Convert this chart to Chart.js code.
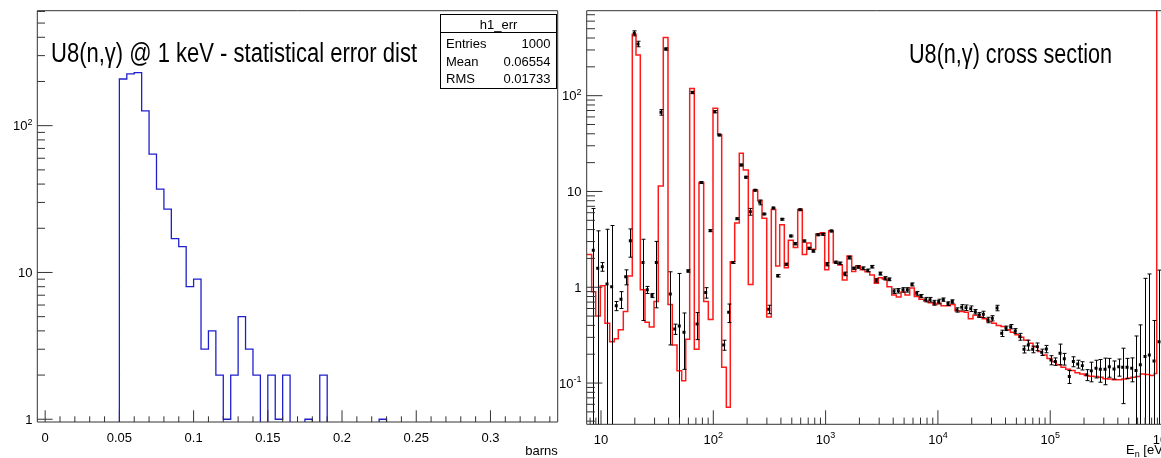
<!DOCTYPE html>
<html><head><meta charset="utf-8">
<script src="https://cdn.jsdelivr.net/npm/chart.js@4.4.1/dist/chart.umd.min.js"></script>
<style>
html,body{margin:0;padding:0;background:#fff;overflow:hidden;width:1161px;height:458px;}
#wrapA{position:absolute;left:0;top:0;width:580px;height:458px;}
#wrapB{position:absolute;left:557px;top:0;width:620px;height:458px;}
canvas{display:block;}
</style></head><body>
<div id="wrapA"><canvas id="cA" width="580" height="458"></canvas></div>
<div id="wrapB"><canvas id="cB" width="620" height="458"></canvas></div>
<script>
// ---------------- DATA: left histogram (statistical error distribution) ----------------
const errTitle = 'U8(n,\u03b3) @ 1 keV - statistical error dist';
const errBinLow = [0.050,0.055,0.060,0.065,0.070,0.075,0.080,0.085,0.090,0.095,
                   0.100,0.105,0.110,0.115,0.120,0.125,0.130,0.135,0.140,0.145,
                   0.150,0.155,0.160,0.165,0.170,0.175,0.180,0.185,0.190,0.195,
                   0.200,0.205,0.210,0.215,0.220,0.225];
const errBinWidth = 0.005;
const errCounts = [208,225,230,126,64,37,27,17,15,8,
                   9,3,4,2,1,2,5,3,2,0,
                   2,1,2,0,0,1,0,2,0,0,
                   0,0,0,0,0,1];
const errTickVals = [0,0.05,0.1,0.15,0.2,0.25,0.3];
const errTickLabels = ['0','0.05','0.1','0.15','0.2','0.25','0.3'];
const countTickVals = [1,10,100];
const countTickLabels = [['1',''],['10',''],['10','2']];
const statName = 'h1_err';
const statRows = [['Entries','1000'],['Mean','0.06554'],['RMS','0.01733']];
const errXTitle = 'barns';

// ---------------- DATA: right panel (cross section) ----------------
const xsTitle = 'U8(n,\u03b3) cross section';
// evaluated cross section histogram: bin edges (eV) and contents (b)
const xsEdges = [7.0,8.26,8.97,9.86,10.85,11.95,13.14,14.26,15.80,17.29,
  19.00,20.50,22.39,24.65,26.92,29.65,32.37,35.87,39.50,43.14,
  47.52,52.31,56.79,61.63,67.73,74.58,82.12,90.27,99.38,109.4,
  118.8,130.6,141.7,155.1,170.4,185.0,205.0,225.7,248.6,271.5,
  299.0,328.5,359.5,390.2,428.8,465.4,515.8,564.5,620.1,678.8,
  741.3,816.2,897.2,981.8,1066,1171,1282,1408,1551,1708,
  1854,2037,2243,2471,2715,2947,3198,3522,3879,4263,
  4694,5093,5609,6163,6788,7473,8212,9046,9817,10656,
  11733,12894,14202,15637,17183,18652,20541,22613,24854,27371,
  30148,33113,36469,40158,44138,48603,52760,58080,63830,70290,
  77400,85060,93650,103130,113330,124800,137400,151000,166300,183100,
  201200,221600,244000,268200,295300,325100,357300,393400,433300,476000,
  524300,577100,634300,698600,769200,845300,888000,1200000];
const xsEval = [2.2,0.9,0.50,1.04,0.42,0.27,0.29,0.36,0.56,1.31,
  437,266,0.94,0.43,0.385,0.71,11.4,405,0.66,0.25,
  0.134,0.106,0.286,119,0.225,12.4,0.71,0.46,74,39,
  0.146,0.056,1.85,4.7,25,16.8,1.07,10.3,8.0,5.25,
  0.49,6.5,1.67,4.5,1.6,3.1,2.6,6.5,2.2,2.9,
  2.5,3.6,3.7,1.52,3.9,1.8,1.71,1.19,2.12,1.46,
  1.68,1.52,1.45,1.34,1.1,1.26,1.22,1.01,0.83,0.79,
  0.89,0.83,0.98,0.80,0.75,0.72,0.69,0.66,0.68,0.64,
  0.64,0.66,0.57,0.56,0.55,0.47,0.51,0.49,0.47,0.44,
  0.42,0.40,0.39,0.36,0.34,0.32,0.30,0.28,0.26,0.24,
  0.213,0.196,0.18,0.167,0.155,0.146,0.139,0.135,0.128,0.124,
  0.12,0.118,0.117,0.115,0.111,0.11,0.108,0.108,0.11,0.112,
  0.115,0.117,0.124,0.123,0.12,0.126,5000];
// measured points: energy (eV), cross section (b), error (b)
const ptE = [8.54,9.35,10.27,11.31,12.45,13.68,15.07,16.6,18.24,19.8,
  21.35,23.66,25.84,28.45,31.08,34.21,37.68,41.41,45.33,49.8,
  54.83,59.54,65.0,71.6,78.2,85.6,94.0,102.9,113.1,123.8,
  137.1,148.9,162.6,177.6,194.3,213.6,235.1,259,282.9,311.4,
  342.1,374.6,409.1,446.7,488.9,537.3,591.6,646,711.6,777,
  855.5,942.4,1029,1124,1230,1344,1480,1626,1780,1955,
  2154,2371,2589,2829,3070,3381,3692,4064,4441,4890,
  5340,5880,6476,7072,7789,8504,9290,10166,11170,12300,
  13440,14790,16290,17790,19600,21530,23380,25380,27940,30510,
  33610,37000,40410,44490,48900,53840,58440,63830,69860,76780,
  84030,92350,101600,111000,122300,133500,147900,160600,175800,193100,
  211300,232300,255700,279400,307600,336000,370000,407400,442200,483100,
  531800,580800,634300,698600,762900,840000,931000];
const ptSigma = [2.44,1.58,1.64,1.08,1.01,0.64,0.75,1.29,3.06,448,
  347,1.81,0.94,0.82,1.81,67.1,307,0.85,0.367,0.394,
  0.339,1.48,108,0.414,12.4,0.88,3.9,68.1,38.9,0.25,
  0.548,1.81,5.2,18.9,14.1,6.15,10.3,7.7,5.82,0.589,
  6.73,1.32,5.13,1.74,3.43,2.85,6.46,3.04,2.55,2.39,
  3.54,3.57,1.74,3.87,1.82,1.78,1.38,2.04,1.58,1.63,
  1.58,1.50,1.64,1.18,1.39,1.24,1.21,0.91,0.92,0.94,
  0.94,1.07,0.865,0.81,0.743,0.743,0.69,0.71,0.743,0.675,
  0.71,0.58,0.618,0.613,0.598,0.556,0.514,0.522,0.456,0.475,
  0.608,0.331,0.373,0.388,0.35,0.305,0.225,0.25,0.225,0.24,
  0.21,0.227,0.174,0.168,0.205,0.179,0.117,0.168,0.158,0.152,
  0.122,0.134,0.143,0.139,0.139,0.148,0.14,0.148,0.146,0.146,
  0.143,0.135,0.155,0.189,0.196,0.17,0.27];
const ptErr = [4.2,2.3,0.17,2.95,3.4,0.07,0.15,0.23,1.0,27,
  23,1.36,0.08,0.04,1.2,4.5,8,0.6,0.045,1.0,
  0.2,0.04,3,0.13,0.3,0.11,0.1,1.8,0.8,0.03,
  0.12,0.04,0.1,0.4,0.3,0.5,0.2,0.45,0.1,0.06,
  0.12,0.04,0.1,0.04,0.07,0.07,0.12,0.07,0.06,0.06,
  0.08,0.08,0.07,0.08,0.05,0.05,0.06,0.07,0.04,0.05,
  0.05,0.05,0.05,0.05,0.05,0.05,0.04,0.05,0.05,0.05,
  0.05,0.04,0.04,0.03,0.04,0.04,0.04,0.04,0.03,0.03,
  0.03,0.03,0.04,0.04,0.04,0.03,0.03,0.04,0.03,0.03,
  0.04,0.025,0.02,0.02,0.02,0.025,0.019,0.03,0.018,0.022,
  0.016,0.02,0.019,0.015,0.05,0.025,0.018,0.02,0.015,0.015,
  0.016,0.031,0.03,0.037,0.043,0.033,0.03,0.03,0.085,0.035,
  0.04,0.175,0.25,1.05,1.18,0.28,1.24];
const energyTickVals = [10,100,1000,10000,100000,1000000];
const energyTickLabels = [['10',''],['10','2'],['10','3'],['10','4'],['10','5'],['10','6']];
const sigmaTickVals = [0.1,1,10,100];
const sigmaTickLabels = [['10','-1'],['1',''],['10',''],['10','2']];

// ---------------- helpers ----------------
const FONT = '"Liberation Sans", Arial, Helvetica, sans-serif';
function drawText(ctx, s, x, y, size, align, fitWidth) {
  ctx.save();
  ctx.font = size + 'px ' + FONT;
  ctx.fillStyle = '#000';
  ctx.textBaseline = 'alphabetic';
  if (fitWidth) {
    const w = ctx.measureText(s).width;
    ctx.translate(x, y); ctx.scale(fitWidth / w, 1);
    ctx.textAlign = 'left'; ctx.fillText(s, 0, 0);
  } else {
    ctx.textAlign = align || 'left'; ctx.fillText(s, x, y);
  }
  ctx.restore();
}
function drawPow(ctx, base, exp, x, y, size, align) {
  ctx.save();
  ctx.fillStyle = '#000'; ctx.textBaseline = 'alphabetic'; ctx.textAlign = 'left';
  ctx.font = size + 'px ' + FONT;
  const wb = ctx.measureText(base).width;
  const ss = Math.round(size * 0.72);
  ctx.font = ss + 'px ' + FONT;
  const we = exp ? ctx.measureText(exp).width : 0;
  const tw = wb + we;
  const x0 = align === 'right' ? x - tw : (align === 'center' ? x - tw / 2 : x);
  ctx.font = size + 'px ' + FONT;
  ctx.fillText(base, x0, y);
  if (exp) { ctx.font = ss + 'px ' + FONT; ctx.fillText(exp, x0 + wb, y - size * 0.42); }
  ctx.restore();
}
function logTicks(min, max) {
  const out = [];
  for (let d = Math.floor(Math.log10(min)); d <= Math.ceil(Math.log10(max)); d++) {
    for (let m = 1; m <= 9; m++) {
      const v = m * Math.pow(10, d);
      if (v >= min && v <= max) out.push({v: v, major: m === 1});
    }
  }
  return out;
}

// ---------------- Chart A ----------------
const A_YMIN = 0.958, A_YMAX = 607;
const histPts = [{x: errBinLow[0], y: A_YMIN * 0.5}];
errCounts.forEach((c, i) => histPts.push({x: errBinLow[i], y: c > 0 ? c : A_YMIN * 0.5}));
histPts.push({x: errBinLow[errBinLow.length - 1] + errBinWidth, y: errCounts[errCounts.length - 1]});
histPts.push({x: errBinLow[errBinLow.length - 1] + errBinWidth, y: A_YMIN * 0.5});

const rootA = {
  id: 'rootA',
  afterDraw(chart) {
    const ctx = chart.ctx, a = chart.chartArea, xs = chart.scales.x, ys = chart.scales.y;
    ctx.save();
    ctx.strokeStyle = '#333'; ctx.lineWidth = 1;
    ctx.beginPath();
    ctx.rect(a.left, a.top, a.right - a.left, a.bottom - a.top);
    // x ticks every 0.01, major every 0.05
    for (let k = 0; k <= 34; k++) {
      const px = xs.getPixelForValue(k * 0.01);
      const len = (k % 5 === 0) ? 11.7 : 5.7;
      ctx.moveTo(px, a.bottom); ctx.lineTo(px, a.bottom - len);
    }
    logTicks(A_YMIN, A_YMAX).forEach(t => {
      const py = ys.getPixelForValue(t.v);
      ctx.moveTo(a.left, py); ctx.lineTo(a.left + (t.major ? 15.3 : 7.7), py);
    });
    ctx.stroke();
    ctx.restore();
    errTickVals.forEach((v, i) => drawText(ctx, errTickLabels[i], xs.getPixelForValue(v), 441.5, 13, 'center'));
    countTickVals.forEach((v, i) => drawPow(ctx, countTickLabels[i][0], countTickLabels[i][1], 32.5, ys.getPixelForValue(v) + 4.6, 13, 'right'));
    drawText(ctx, errXTitle, a.right, 454.5, 13, 'right');
    drawText(ctx, errTitle, 51, 62, 27, 'left', 366);
    // stat box
    ctx.save();
    ctx.fillStyle = '#fff'; ctx.strokeStyle = '#000'; ctx.lineWidth = 1;
    ctx.fillRect(440.5, 14.5, 116, 74);
    ctx.strokeRect(440.5, 14.5, 116, 74);
    ctx.beginPath(); ctx.moveTo(440.5, 32.5); ctx.lineTo(556.5, 32.5); ctx.stroke();
    ctx.restore();
    drawText(ctx, statName, 498.5, 28.5, 13, 'center');
    statRows.forEach((r, i) => {
      const by = 48 + i * 17.7;
      drawText(ctx, r[0], 446, by, 13, 'left');
      drawText(ctx, r[1], 550.5, by, 13, 'right');
    });
  }
};

new Chart(document.getElementById('cA'), {
  type: 'line',
  data: {datasets: [{
    data: histPts, stepped: true, borderColor: '#1f1fcc', borderWidth: 1.3,
    pointRadius: 0, fill: false, tension: 0
  }]},
  options: {
    responsive: false, animation: false, events: [],
    layout: {padding: {left: 37.3, right: 22.3, top: 10.7, bottom: 36}},
    plugins: {legend: {display: false}, tooltip: {enabled: false}},
    scales: {
      x: {type: 'linear', min: -0.0053, max: 0.3453, display: false},
      y: {type: 'logarithmic', min: A_YMIN, max: A_YMAX, display: false}
    }
  },
  plugins: [rootA]
});

// ---------------- Chart B ----------------
const B_XMIN = 7.46, B_XMAX = 1.074e6, B_YMIN = 0.0371, B_YMAX = 771;
const evalPts = xsEval.map((v, i) => ({x: xsEdges[i], y: v}));
evalPts.push({x: xsEdges[xsEdges.length - 1], y: xsEval[xsEval.length - 1]});
const measPts = ptE.map((e, i) => ({x: e, y: ptSigma[i]}));

const rootB = {
  id: 'rootB',
  afterDatasetsDraw(chart) {
    const ctx = chart.ctx, a = chart.chartArea, xs = chart.scales.x, ys = chart.scales.y;
    ctx.save();
    ctx.beginPath(); ctx.rect(a.left, a.top, a.right - a.left, a.bottom - a.top); ctx.clip();
    ctx.strokeStyle = '#000'; ctx.lineWidth = 1;
    ctx.beginPath();
    ptE.forEach((e, i) => {
      const px = Math.round(xs.getPixelForValue(e)) + 0.5;
      const hi = ptSigma[i] + ptErr[i], lo = ptSigma[i] - ptErr[i];
      const pyHi = ys.getPixelForValue(hi);
      const pyLo = lo > B_YMIN ? ys.getPixelForValue(lo) : a.bottom + 2;
      ctx.moveTo(px, pyHi); ctx.lineTo(px, pyLo);
      if (hi < B_YMAX) { ctx.moveTo(px - 2, pyHi); ctx.lineTo(px + 2, pyHi); }
      if (lo > B_YMIN) { ctx.moveTo(px - 2, pyLo); ctx.lineTo(px + 2, pyLo); }
    });
    ctx.stroke();
    ctx.restore();
  },
  afterDraw(chart) {
    const ctx = chart.ctx, a = chart.chartArea, xs = chart.scales.x, ys = chart.scales.y;
    ctx.save();
    ctx.strokeStyle = '#333'; ctx.lineWidth = 1;
    ctx.beginPath();
    ctx.rect(a.left, a.top, a.right - a.left, a.bottom - a.top);
    logTicks(B_XMIN, B_XMAX).forEach(t => {
      const px = xs.getPixelForValue(t.v);
      ctx.moveTo(px, a.bottom); ctx.lineTo(px, a.bottom - (t.major ? 14 : 6.7));
    });
    logTicks(B_YMIN, B_YMAX).forEach(t => {
      const py = ys.getPixelForValue(t.v);
      ctx.moveTo(a.left, py); ctx.lineTo(a.left + (t.major ? 15.7 : 8.3), py);
    });
    ctx.stroke();
    ctx.restore();
    energyTickVals.forEach((v, i) => drawPow(ctx, energyTickLabels[i][0], energyTickLabels[i][1], xs.getPixelForValue(v), 443.5, 13, 'center'));
    sigmaTickVals.forEach((v, i) => drawPow(ctx, sigmaTickLabels[i][0], sigmaTickLabels[i][1], 24.5, ys.getPixelForValue(v) + 4.6, 13, 'right'));
    // axis title E_n [eV]
    ctx.save();
    ctx.fillStyle = '#000'; ctx.textBaseline = 'alphabetic'; ctx.textAlign = 'left';
    ctx.font = '13px ' + FONT;
    const x0 = 569, by = 454;
    ctx.fillText('E', x0, by);
    const wE = ctx.measureText('E').width;
    ctx.font = '9px ' + FONT;
    ctx.fillText('n', x0 + wE, by + 3);
    const wn = ctx.measureText('n').width;
    ctx.font = '13px ' + FONT;
    ctx.fillText(' [eV]', x0 + wE + wn, by);
    ctx.restore();
    drawText(ctx, xsTitle, 352, 63, 27, 'left', 203);
  }
};

new Chart(document.getElementById('cB'), {
  type: 'line',
  data: {datasets: [
    {data: measPts, showLine: false, pointStyle: 'rect', pointRadius: 2.1,
     pointBackgroundColor: '#000', pointBorderWidth: 0, borderColor: '#000'},
    {data: evalPts, stepped: true, borderColor: 'rgba(255,0,0,0.9)', borderWidth: 1.5,
     pointRadius: 0, fill: false, tension: 0}
  ]},
  options: {
    responsive: false, animation: false, events: [],
    layout: {padding: {left: 29.7, right: 11, top: 10.7, bottom: 33.7}},
    plugins: {legend: {display: false}, tooltip: {enabled: false}},
    scales: {
      x: {type: 'logarithmic', min: B_XMIN, max: B_XMAX, display: false},
      y: {type: 'logarithmic', min: B_YMIN, max: B_YMAX, display: false}
    }
  },
  plugins: [rootB]
});
</script>
</body></html>
